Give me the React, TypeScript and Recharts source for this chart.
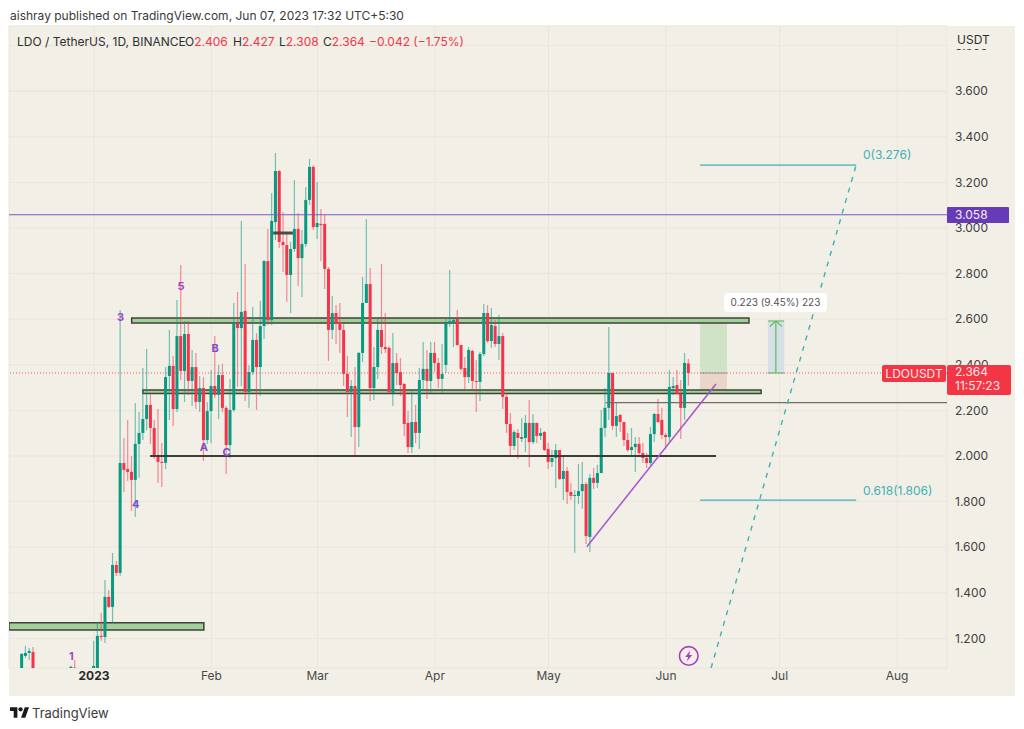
import React from 'react'
import {
  ComposedChart,
  Bar,
  XAxis,
  YAxis,
  CartesianGrid,
  ReferenceLine,
  ReferenceArea,
  ReferenceDot,
} from 'recharts'

// days counted from 2023-01-01
const days = [
  -19, -18, -17, -16, -6, -5,
  0, 1, 2, 3, 4, 5, 6, 7, 8, 9, 10, 11, 12, 13, 14, 15, 16, 17, 18, 19,
  20, 21, 22, 23, 24, 25, 26, 27, 28, 29, 30, 31, 32, 33, 34, 35, 36, 37, 38, 39,
  40, 41, 42, 43, 44, 45, 46, 47, 48, 49, 50, 51, 52, 53, 54, 55, 56, 57, 58, 59,
  60, 61, 62, 63, 64, 65, 66, 67, 68, 69, 70, 71, 72, 73, 74, 75, 76, 77, 78, 79,
  80, 81, 82, 83, 84, 85, 86, 87, 88, 89, 90, 91, 92, 93, 94, 95, 96, 97, 98, 99,
  100, 101, 102, 103, 104, 105, 106, 107, 108, 109, 110, 111, 112, 113, 114, 115, 116, 117, 118, 119,
  120, 121, 122, 123, 124, 125, 126, 127, 128, 129, 130, 131, 132, 133, 134, 135, 136, 137, 138, 139,
  140, 141, 142, 143, 144, 145, 146, 147, 148, 149, 150, 151, 152, 153, 154, 155, 156, 157,
]

const opens = [
  1.07, 1.123, 1.136, 1.14, 1.07, 1.072,
  1.07, 1.07, 1.211, 1.206, 1.382, 1.338, 1.522, 1.487, 1.969, 1.943, 1.93, 1.895, 2.053, 2.101, 2.162, 2.224, 2.123, 2.004, 1.974, 1.97,
  2.351, 2.395, 2.206, 2.526, 2.373, 2.535, 2.329, 2.39, 2.237, 2.298, 2.07, 2.197, 2.307, 2.268, 2.355, 2.211, 2.048, 2.202, 2.583, 2.561,
  2.636, 2.281, 2.368, 2.509, 2.39, 2.57, 2.855, 2.596, 3.026, 3.25, 2.939, 2.925, 2.794, 2.908, 2.996, 2.868, 2.93, 3.123, 3.268, 3.004,
  3.018, 3.018, 2.82, 2.553, 2.627, 2.588, 2.553, 2.36, 2.281, 2.307, 2.127, 2.452, 2.671, 2.754, 2.298, 2.39, 2.553, 2.478, 2.474, 2.276,
  2.408, 2.368, 2.316, 2.145, 2.039, 2.149, 2.101, 2.333, 2.382, 2.329, 2.452, 2.408, 2.338, 2.399, 2.583, 2.588, 2.601, 2.487, 2.386, 2.346,
  2.461, 2.329, 2.325, 2.447, 2.627, 2.504, 2.57, 2.491, 2.526, 2.259, 2.14, 2.044, 2.101, 2.075, 2.079, 2.145, 2.061, 2.145, 2.088, 2.105,
  2.031, 1.974, 1.991, 2.026, 1.899, 1.934, 1.842, 1.825, 1.825, 1.846, 1.877, 1.645, 1.904, 1.882, 1.925, 2.123, 2.211, 2.364, 2.132, 2.18,
  2.149, 2.07, 2.026, 2.039, 2.053, 2.013, 1.991, 1.969, 2.096, 2.184, 2.158, 2.092, 2.083, 2.298, 2.311, 2.272, 2.211, 2.406,
]

const highs = [
  1.135, 1.167, 1.158, 1.162, 1.08, 1.105,
  1.189, 1.272, 1.311, 1.456, 1.412, 1.575, 1.539, 2.64, 2.079, 2.158, 2.0, 2.232, 2.193, 2.386, 2.469, 2.276, 2.158, 2.206, 2.057, 2.39,
  2.553, 2.439, 2.684, 2.838, 2.592, 2.592, 2.465, 2.452, 2.351, 2.346, 2.237, 2.377, 2.526, 2.399, 2.404, 2.219, 2.338, 2.671, 2.719, 3.031,
  2.842, 2.399, 2.654, 2.539, 2.68, 2.86, 2.996, 3.154, 3.329, 3.254, 3.07, 2.978, 2.939, 3.211, 3.066, 2.991, 3.18, 3.303, 3.276, 3.202,
  3.083, 3.057, 2.829, 2.702, 2.662, 2.671, 2.579, 2.439, 2.333, 2.39, 2.456, 2.785, 3.039, 2.825, 2.478, 2.605, 2.842, 2.627, 2.482, 2.539,
  2.452, 2.43, 2.32, 2.197, 2.294, 2.224, 2.386, 2.5, 2.465, 2.5, 2.5, 2.43, 2.491, 2.601, 2.816, 2.601, 2.64, 2.487, 2.434, 2.478,
  2.465, 2.421, 2.456, 2.667, 2.662, 2.649, 2.596, 2.618, 2.539, 2.276, 2.189, 2.114, 2.118, 2.167, 2.18, 2.246, 2.184, 2.145, 2.123, 2.11,
  2.057, 2.026, 2.053, 2.026, 1.996, 1.952, 1.882, 1.851, 1.965, 1.974, 1.886, 1.921, 1.947, 1.961, 2.202, 2.298, 2.566, 2.364, 2.232, 2.184,
  2.149, 2.101, 2.123, 2.083, 2.083, 2.057, 2.013, 2.127, 2.189, 2.25, 2.211, 2.101, 2.377, 2.346, 2.377, 2.333, 2.452, 2.427,
]

const lows = [
  1.07, 1.114, 1.105, 1.07, 1.07, 1.07,
  1.07, 1.07, 1.189, 1.18, 1.333, 1.268, 1.474, 1.474, 1.842, 1.89, 1.759, 1.732, 1.904, 2.07, 2.114, 2.053, 1.987, 1.882, 1.864, 1.943,
  2.158, 2.132, 2.193, 2.333, 2.237, 2.268, 2.219, 2.206, 2.193, 1.978, 2.053, 2.057, 2.254, 2.162, 2.193, 1.921, 1.991, 2.193, 2.303, 2.307,
  2.241, 2.211, 2.355, 2.202, 2.263, 2.513, 2.575, 2.575, 2.947, 2.912, 2.807, 2.675, 2.627, 2.895, 2.746, 2.697, 2.917, 3.101, 2.991, 2.952,
  2.855, 2.732, 2.417, 2.513, 2.491, 2.452, 2.307, 2.171, 2.083, 1.996, 2.039, 2.412, 2.675, 2.241, 2.246, 2.338, 2.447, 2.452, 2.276, 2.219,
  2.311, 2.263, 2.088, 2.013, 2.013, 2.057, 2.031, 2.289, 2.25, 2.276, 2.368, 2.298, 2.276, 2.364, 2.566, 2.478, 2.482, 2.373, 2.294, 2.32,
  2.294, 2.193, 2.241, 2.439, 2.496, 2.474, 2.478, 2.421, 2.206, 2.101, 1.996, 2.026, 1.987, 2.061, 2.018, 1.952, 2.053, 2.057, 2.07, 2.022,
  1.943, 1.952, 1.86, 1.895, 1.807, 1.789, 1.807, 1.575, 1.789, 1.768, 1.614, 1.579, 1.855, 1.86, 1.925, 2.083, 2.158, 2.114, 2.083, 2.105,
  2.044, 2.018, 2.004, 1.93, 1.996, 1.969, 1.947, 1.961, 2.061, 2.145, 2.075, 2.031, 2.057, 2.268, 2.268, 2.075, 2.158, 2.308,
]

const closes = [
  1.132, 1.136, 1.145, 1.07, 1.075, 1.07,
  1.079, 1.211, 1.206, 1.382, 1.338, 1.522, 1.487, 1.969, 1.939, 1.93, 1.895, 2.053, 2.101, 2.162, 2.224, 2.123, 2.0, 1.974, 1.97, 2.346,
  2.395, 2.206, 2.526, 2.373, 2.535, 2.329, 2.39, 2.237, 2.298, 2.07, 2.197, 2.307, 2.268, 2.355, 2.211, 2.048, 2.202, 2.583, 2.561, 2.632,
  2.281, 2.368, 2.509, 2.39, 2.57, 2.855, 2.596, 3.031, 3.25, 2.939, 2.925, 2.794, 2.908, 2.996, 2.868, 2.93, 3.123, 3.268, 3.004, 3.022,
  3.013, 2.82, 2.553, 2.627, 2.583, 2.553, 2.36, 2.281, 2.307, 2.127, 2.452, 2.671, 2.754, 2.298, 2.39, 2.553, 2.478, 2.469, 2.281, 2.408,
  2.364, 2.311, 2.14, 2.039, 2.149, 2.101, 2.333, 2.382, 2.329, 2.452, 2.408, 2.338, 2.36, 2.583, 2.592, 2.596, 2.487, 2.382, 2.346, 2.465,
  2.329, 2.325, 2.447, 2.627, 2.504, 2.575, 2.491, 2.526, 2.259, 2.14, 2.044, 2.105, 2.079, 2.083, 2.145, 2.061, 2.145, 2.088, 2.101, 2.026,
  1.974, 1.991, 2.026, 1.899, 1.934, 1.842, 1.825, 1.829, 1.846, 1.877, 1.649, 1.904, 1.882, 1.925, 2.123, 2.211, 2.364, 2.132, 2.175, 2.149,
  2.07, 2.026, 2.039, 2.053, 2.013, 1.991, 1.969, 2.096, 2.184, 2.149, 2.092, 2.083, 2.303, 2.307, 2.272, 2.211, 2.408, 2.364,
]

const xTicks = [0, 31, 59, 90, 120, 151, 181, 212]
const xLabels = ['2023', 'Feb', 'Mar', 'Apr', 'May', 'Jun', 'Jul', 'Aug']
const yTicks = [1.2, 1.4, 1.6, 1.8, 2.0, 2.2, 2.4, 2.6, 2.8, 3.0, 3.2, 3.4, 3.6, 3.8]

const waveLabels = ['1', '3', '4', '5', 'A', 'B', 'C']
const waveDays = [-6, 7, 11, 23, 29, 32, 35]
const wavePrices = [1.123, 2.61, 1.789, 2.746, 2.039, 2.474, 2.018]
const waveColors = ['#a545c4', '#a545c4', '#7e4fc4', '#a545c4', '#7e4fc4', '#7e4fc4', '#7e4fc4']

const candles = days.map((d, i) => ({
  d,
  open: opens[i],
  high: highs[i],
  low: lows[i],
  close: closes[i],
}))

const UP = '#089981'
const DOWN = '#f7334a'
const FONT = 'Inter, "Noto Sans", sans-serif'
const ZONE_FILL = '#a3cf98'
const ZONE_EDGE = '#3f433c'
const TEAL = '#3fb0b5'

const Candle = (props: any) => {
  const { x, y, width, height, payload } = props
  const color = payload.close >= payload.open ? UP : DOWN
  const span = payload.high - payload.low
  const toY = (v: number) => y + ((payload.high - v) / span) * height
  const top = toY(Math.max(payload.open, payload.close))
  const bottom = toY(Math.min(payload.open, payload.close))
  const mid = x + width / 2
  return (
    <g>
      <line x1={mid} x2={mid} y1={y} y2={y + height} stroke={color} strokeOpacity={0.55} strokeWidth={1.2} />
      <rect x={x} y={top} width={width} height={Math.max(bottom - top, 1)} fill={color} />
    </g>
  )
}

const XTick = (props: any) => {
  const { x, y, payload } = props
  const idx = xTicks.indexOf(payload.value)
  return (
    <text
      x={x}
      y={y}
      dy={4}
      textAnchor="middle"
      fontFamily={FONT}
      fontSize={12}
      fontWeight={idx === 0 ? 700 : 400}
      fill={idx === 0 ? '#2b2b2b' : '#4a4a4a'}
    >
      {xLabels[idx]}
    </text>
  )
}

const noteText = (text: string, color: string, size: number, weight: number, anchor: string) => (p: any) => (
  <text
    x={p.cx}
    y={p.cy}
    dy={size * 0.36}
    textAnchor={anchor as any}
    fontFamily={FONT}
    fontSize={size}
    fontWeight={weight}
    fill={color}
  >
    {text}
  </text>
)

const FlashIcon = (p: any) => (
  <g transform={`translate(${p.cx},${p.cy})`}>
    <circle r={9.3} fill="none" stroke="#a83fc0" strokeWidth={1.6} />
    <path d="M1.5 -5.5 L-3.5 1 L-0.5 1 L-2 5.5 L3.5 -1 L0.5 -1 Z" fill="#a83fc0" />
  </g>
)

const Zone = (d1: number, d2: number, p1: number, p2: number) => (
  <ReferenceArea
    x1={d1}
    x2={d2}
    y1={p1}
    y2={p2}
    fill={ZONE_FILL}
    fillOpacity={1}
    stroke={ZONE_EDGE}
    strokeWidth={1.5}
    ifOverflow="hidden"
  />
)

const Seg = (d1: number, p1: number, d2: number, p2: number, color: string, width: number, dash?: string) => (
  <ReferenceLine
    segment={[{ x: d1, y: p1 }, { x: d2, y: p2 }]}
    stroke={color}
    strokeWidth={width}
    strokeDasharray={dash}
    ifOverflow="hidden"
  />
)

export default function App() {
  const abs = (left: number, top: number): React.CSSProperties => ({ position: 'absolute', left, top, whiteSpace: 'nowrap' })
  const red = { color: '#f23645' }
  return (
    <div style={{ position: 'absolute', left: 0, top: 0, width: 1024, height: 729, background: '#fff', fontFamily: FONT, overflow: 'hidden' }}>
      <div style={{ ...abs(10, 8), fontSize: 12, color: '#3a3a3a' }}>
        aishray published on TradingView.com, Jun 07, 2023 17:32 UTC+5:30
      </div>
      <div style={{ position: 'absolute', left: 9, top: 26, width: 1006, height: 670, background: '#f2efe7' }} />

      <div style={{ position: 'absolute', left: 0, top: 0 }}>
        <ComposedChart
          width={1024}
          height={729}
          data={candles}
          margin={{ top: 26, right: 9, bottom: 33, left: 9 }}
        >
          <CartesianGrid stroke="#e8e5dc" strokeWidth={1} />
          <XAxis
            dataKey="d"
            type="number"
            domain={[-22.44, 225.18]}
            allowDataOverflow
            ticks={xTicks}
            height={28}
            axisLine={false}
            tickLine={false}
            tickSize={0}
            tickMargin={8}
            tick={<XTick />}
            interval={0}
          />
          <YAxis
            orientation="right"
            width={68}
            domain={[1.07, 3.886]}
            allowDataOverflow
            ticks={yTicks}
            axisLine={false}
            tickLine={false}
            tickSize={0}
            tickMargin={8}
            interval={0}
            tickFormatter={(v: number) => v.toFixed(3)}
            tick={{ fontFamily: FONT, fontSize: 12, fill: '#3f3f3f', textAnchor: 'start' }}
          />

          {/* position and measure boxes sit under the candles */}
          <ReferenceArea x1={160} x2={167.1} y1={2.364} y2={2.583} fill="#d1e3c6" fillOpacity={1} stroke="none" />
          <ReferenceArea x1={160} x2={167.1} y1={2.281} y2={2.364} fill="#e9d5ca" fillOpacity={1} stroke="none" />
          <ReferenceArea x1={177.9} x2={182.2} y1={2.364} y2={2.592} fill="#d6dfe6" fillOpacity={1} stroke="none" />

          <Bar
            dataKey={(c: any) => [c.low, c.high]}
            barSize={3}
            shape={<Candle />}
            isAnimationActive={false}
          />

          <ReferenceLine y={3.058} stroke="#7e57c2" strokeWidth={1.2} />
          <ReferenceLine y={2.364} stroke="#f23645" strokeOpacity={0.8} strokeWidth={1} strokeDasharray="1 2" />
          {Seg(135.1, 2.234, 225.18, 2.234, '#6e6e6a', 1.2)}
          {Seg(160, 2.364, 167.1, 2.364, '#9a9a94', 1)}

          {Zone(9.95, 172.9, 2.583, 2.605)}
          {Zone(12.9, 176.1, 2.274, 2.289)}
          {Zone(-22.44, 29, 1.237, 1.268)}
          {Seg(14.8, 2.0, 164.2, 2.0, '#3c3c38', 2)}
          {Seg(47.3, 2.978, 52.5, 2.978, '#4b4b45', 3)}
          {Seg(130.1, 1.602, 164.2, 2.316, '#a855c8', 1.5)}

          {Seg(160, 3.276, 201.2, 3.276, TEAL, 1.2)}
          {Seg(160, 1.806, 201.2, 1.806, TEAL, 1.2)}
          {Seg(162.9, 1.07, 201.2, 3.276, TEAL, 1.4, '5 6')}

          {Seg(180, 2.364, 180, 2.592, '#66bb6a', 1.3)}
          {Seg(177.9, 2.364, 182.2, 2.364, '#66bb6a', 1.2)}
          {Seg(177.9, 2.592, 182.2, 2.592, '#66bb6a', 1.2)}
          {Seg(178.4, 2.568, 180, 2.592, '#66bb6a', 1.2)}
          {Seg(181.6, 2.568, 180, 2.592, '#66bb6a', 1.2)}

          {waveLabels.map((t, i) => (
            <ReferenceDot
              key={t}
              x={waveDays[i]}
              y={wavePrices[i]}
              r={0}
              shape={noteText(t, waveColors[i], 11, 700, 'middle')}
            />
          ))}
          <ReferenceDot x={203} y={3.32} r={0} shape={noteText('0(3.276)', TEAL, 12, 400, 'start')} />
          <ReferenceDot x={203} y={1.846} r={0} shape={noteText('0.618(1.806)', TEAL, 12, 400, 'start')} />
          <ReferenceDot x={157} y={1.123} r={0} shape={FlashIcon} />
        </ComposedChart>
      </div>

      <div style={{ ...abs(17, 34), fontSize: 12, color: '#2f2f2f' }}>LDO / TetherUS, 1D, BINANCE</div>
      <div style={{ ...abs(185, 34), fontSize: 12, color: '#2f2f2f' }}>O<span style={red}>2.406</span></div>
      <div style={{ ...abs(233, 34), fontSize: 12, color: '#2f2f2f' }}>H<span style={red}>2.427</span></div>
      <div style={{ ...abs(279, 34), fontSize: 12, color: '#2f2f2f' }}>L<span style={red}>2.308</span></div>
      <div style={{ ...abs(323, 34), fontSize: 12, color: '#2f2f2f' }}>C<span style={red}>2.364</span></div>
      <div style={{ ...abs(369, 34), fontSize: 12, ...red }}>−0.042 (−1.75%)</div>

      <div style={{ position: 'absolute', left: 947, top: 26, width: 68, height: 23, background: '#f2efe7' }} />
      <div style={{ ...abs(957, 32), fontSize: 12, color: '#2f2f2f' }}>USDT</div>

      <div style={{ ...abs(947, 207), width: 62, height: 16, background: '#673ab7', color: '#f3eefb', fontSize: 12, lineHeight: '16px', borderRadius: 1, paddingLeft: 8, boxSizing: 'border-box' }}>3.058</div>

      <div style={{ ...abs(882, 364.5), width: 64, height: 17, background: '#f23645', color: '#fde6e8', fontSize: 12, lineHeight: '17px', borderRadius: 2, textAlign: 'center' }}>LDOUSDT</div>
      <div style={{ ...abs(947, 364.5), width: 64, height: 30, background: '#f23645', color: '#fde6e8', fontSize: 12, lineHeight: '14.5px', borderRadius: 2, paddingLeft: 8, boxSizing: 'border-box' }}>
        2.364<br />11:57:23
      </div>

      <div style={{ ...abs(724, 293), width: 103, height: 19, background: '#fff', color: '#555', fontSize: 10, lineHeight: '19px', borderRadius: 4, textAlign: 'center' }}>
        0.223 (9.45%) 223
      </div>

      <svg style={{ position: 'absolute', left: 10, top: 706 }} width="19" height="13" viewBox="0 0 36 24">
        <path d="M14 2H0v7h7v13h7V2z" fill="#1a1a1a" />
        <circle cx="20" cy="6" r="4" fill="#1a1a1a" />
        <path d="M29 22h-8l7-20h8l-7 20z" fill="#1a1a1a" />
      </svg>
      <div style={{ ...abs(32, 705), fontSize: 13, color: '#3a3a3a' }}>TradingView</div>
    </div>
  )
}
